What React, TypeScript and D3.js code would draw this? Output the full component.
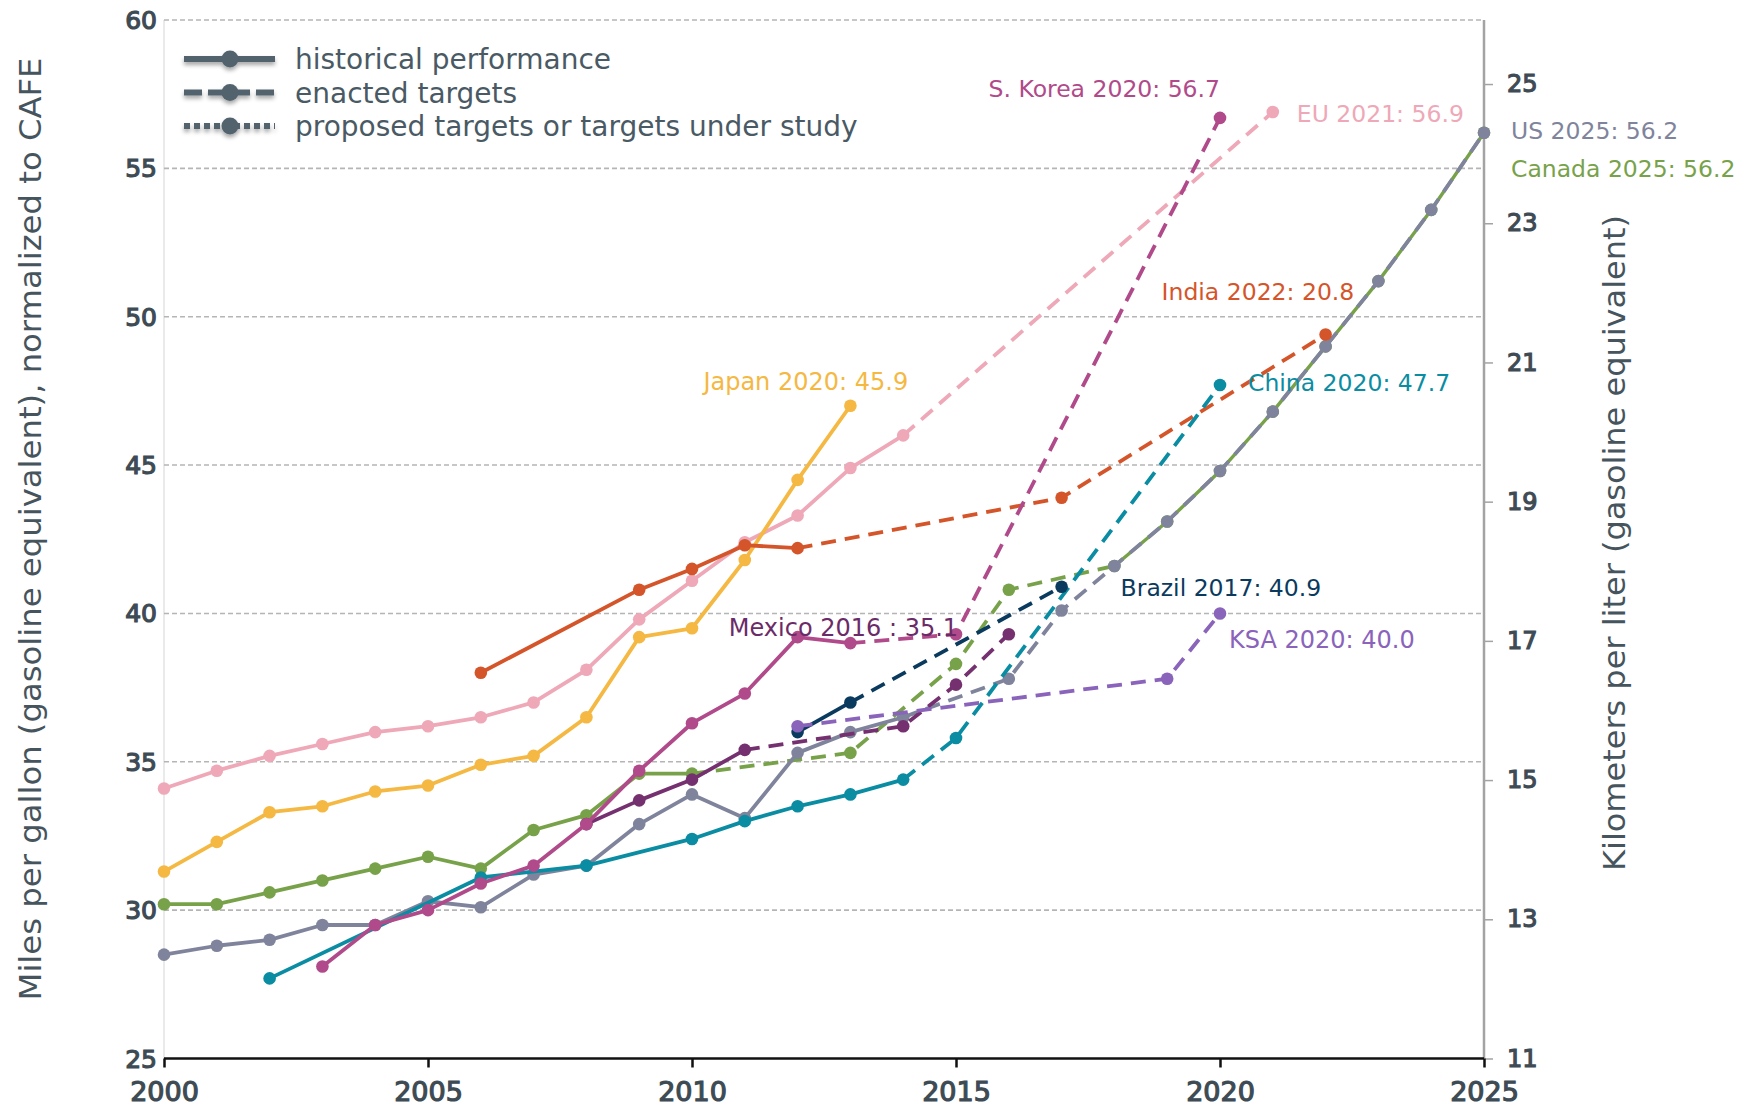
import * as d3 from "d3";
import React, { useEffect, useRef } from "react";

// ---- data (mpg, normalized to CAFE) ----
const usHistYears = [2000, 2001, 2002, 2003, 2004, 2005, 2006, 2007, 2008, 2009, 2010, 2011, 2012, 2013, 2014];
const usHist = [28.5, 28.8, 29.0, 29.5, 29.5, 30.3, 30.1, 31.2, 31.5, 32.9, 33.9, 33.1, 35.3, 36.0, 36.5];
const usTargetYears = [2014, 2016, 2017, 2018, 2019, 2020, 2021, 2022, 2023, 2024, 2025];
const usTarget = [36.5, 37.8, 40.1, 41.6, 43.1, 44.8, 46.8, 49.0, 51.2, 53.6, 56.2];

const canadaHistYears = [2000, 2001, 2002, 2003, 2004, 2005, 2006, 2007, 2008, 2009, 2010];
const canadaHist = [30.2, 30.2, 30.6, 31.0, 31.4, 31.8, 31.4, 32.7, 33.2, 34.6, 34.6];
const canadaTargetYears = [2010, 2013, 2015, 2016, 2018, 2019, 2020, 2021, 2022, 2023, 2024, 2025];
const canadaTarget = [34.6, 35.3, 38.3, 40.8, 41.6, 43.1, 44.8, 46.8, 49.0, 51.2, 53.6, 56.2];

const euHistYears = [2000, 2001, 2002, 2003, 2004, 2005, 2006, 2007, 2008, 2009, 2010, 2011, 2012, 2013, 2014];
const euHist = [34.1, 34.7, 35.2, 35.6, 36.0, 36.2, 36.5, 37.0, 38.1, 39.8, 41.1, 42.4, 43.3, 44.9, 46.0];
const euTargetYears = [2014, 2021];
const euTarget = [46.0, 56.9];

const japanHistYears = [2000, 2001, 2002, 2003, 2004, 2005, 2006, 2007, 2008, 2009, 2010, 2011, 2012, 2013];
const japanHist = [31.3, 32.3, 33.3, 33.5, 34.0, 34.2, 34.9, 35.2, 36.5, 39.2, 39.5, 41.8, 44.5, 47.0];

const indiaHistYears = [2006, 2009, 2010, 2011, 2012];
const indiaHist = [38.0, 40.8, 41.5, 42.3, 42.2];
const indiaTargetYears = [2012, 2017, 2022];
const indiaTarget = [42.2, 43.9, 49.4];

const chinaHistYears = [2002, 2006, 2008, 2010, 2011, 2012, 2013, 2014];
const chinaHist = [27.7, 31.1, 31.5, 32.4, 33.0, 33.5, 33.9, 34.4];
const chinaTargetYears = [2014, 2015, 2020];
const chinaTarget = [34.4, 35.8, 47.7];

const mexicoHistYears = [2008, 2009, 2010, 2011];
const mexicoHist = [32.9, 33.7, 34.4, 35.4];
const mexicoTargetYears = [2011, 2014, 2015, 2016];
const mexicoTarget = [35.4, 36.2, 37.6, 39.3];

const koreaHistYears = [2003, 2004, 2005, 2006, 2007, 2008, 2009, 2010, 2011, 2012, 2013];
const koreaHist = [28.1, 29.5, 30.0, 30.9, 31.5, 32.9, 34.7, 36.3, 37.3, 39.2, 39.0];
const koreaTargetYears = [2013, 2015, 2020];
const koreaTarget = [39.0, 39.3, 56.7];

const brazilHistYears = [2012, 2013];
const brazilHist = [36.0, 37.0];
const brazilTargetYears = [2013, 2017];
const brazilTarget = [37.0, 40.9];

const ksaTargetYears = [2012, 2019, 2020];
const ksaTarget = [36.2, 37.8, 40.0];

const mpgTicks = [25, 30, 35, 40, 45, 50, 55, 60];
const kmlTicks = [11, 13, 15, 17, 19, 21, 23, 25];
const yearTicks = [2000, 2005, 2010, 2015, 2020, 2025];
const legendLabels = ["historical performance", "enacted targets", "proposed targets or targets under study"];

const zip = (xs: number[], ys: number[]) => xs.map((x, i) => [x, ys[i]] as [number, number]);

// draw order: later on top. sharedFrom: year from which the target runs along the US line (drawn solid underneath)
const series = [
  { name: "Canada", color: "#78a24a", hist: zip(canadaHistYears, canadaHist), target: zip(canadaTargetYears, canadaTarget), sharedFrom: 2018,
    label: "Canada 2025: 56.2", lx: 27, ly: 36, anchor: "start", fs: 23.5 },
  { name: "US", color: "#7f849c", hist: zip(usHistYears, usHist), target: zip(usTargetYears, usTarget), sharedFrom: 0,
    label: "US 2025: 56.2", lx: 27, ly: -2, anchor: "start", fs: 23.5 },
  { name: "EU", color: "#eea8b7", hist: zip(euHistYears, euHist), target: zip(euTargetYears, euTarget), sharedFrom: 0,
    label: "EU 2021: 56.9", lx: 24, ly: 2, anchor: "start", fs: 23.5 },
  { name: "Japan", color: "#f4b843", hist: zip(japanHistYears, japanHist), target: [] as [number, number][], sharedFrom: 0,
    label: "Japan 2020: 45.9", lx: -147, ly: -24, anchor: "start", fs: 24 },
  { name: "India", color: "#d5552b", hist: zip(indiaHistYears, indiaHist), target: zip(indiaTargetYears, indiaTarget), sharedFrom: 0,
    label: "India 2022: 20.8", lx: -164, ly: -43, anchor: "start", fs: 23.5 },
  { name: "China", color: "#0a8ca2", hist: zip(chinaHistYears, chinaHist), target: zip(chinaTargetYears, chinaTarget), sharedFrom: 0,
    label: "China 2020: 47.7", lx: 28, ly: -2, anchor: "start", fs: 23.5 },
  { name: "Mexico", color: "#75306f", hist: zip(mexicoHistYears, mexicoHist), target: zip(mexicoTargetYears, mexicoTarget), sharedFrom: 0,
    label: "Mexico 2016 : 35.1", lx: -280, ly: -7, anchor: "start", fs: 24, textColor: "#6b2b68" },
  { name: "S. Korea", color: "#b04a8a", hist: zip(koreaHistYears, koreaHist), target: zip(koreaTargetYears, koreaTarget), sharedFrom: 0,
    label: "S. Korea 2020: 56.7", lx: 0, ly: -29, anchor: "end", fs: 23.5 },
  { name: "Brazil", color: "#0a3a5e", hist: zip(brazilHistYears, brazilHist), target: zip(brazilTargetYears, brazilTarget), sharedFrom: 0,
    label: "Brazil 2017: 40.9", lx: 59, ly: 1, anchor: "start", fs: 23.5 },
  { name: "KSA", color: "#8a63bb", hist: [] as [number, number][], target: zip(ksaTargetYears, ksaTarget), sharedFrom: 0,
    label: "KSA 2020: 40.0", lx: 9, ly: 26, anchor: "start", fs: 24 },
];

const W = 1747;
const H = 1109;
const X0 = 164, X1 = 1484, Y0 = 20, Y1 = 1058.5;
const tickFont = "'DejaVu Sans', sans-serif";
const titleFont = "'Liberation Sans Narrow', 'DejaVu Sans Condensed', 'Liberation Sans', Arial, sans-serif";

const App = () => {
  const ref = useRef<SVGSVGElement>(null);

  useEffect(() => {
    const svg = d3.select(ref.current);
    svg.selectAll("*").remove();

    const x = d3.scaleLinear().domain([2000, 2025]).range([X0, X1]);
    const y = d3.scaleLinear().domain([25, 60]).range([Y1, Y0]);
    const yKm = d3.scaleLinear().domain([11, 25.92]).range([Y1, Y0]);

    const defs = svg.append("defs");
    const f = defs.append("filter").attr("id", "shadow").attr("x", "-20%").attr("y", "-80%").attr("width", "140%").attr("height", "260%");
    f.append("feDropShadow").attr("dx", 0).attr("dy", 3).attr("stdDeviation", 2).attr("flood-color", "#000").attr("flood-opacity", 0.35);

    // left border
    svg.append("line").attr("x1", X0).attr("x2", X0).attr("y1", Y0).attr("y2", Y1)
      .attr("stroke", "#dcdcdc").attr("stroke-width", 1.2);

    // gridlines
    svg.append("g").selectAll("line").data(mpgTicks.filter((t) => t > 25)).enter().append("line")
      .attr("x1", X0).attr("x2", X1).attr("y1", (d) => y(d)).attr("y2", (d) => y(d))
      .attr("stroke", "#b5b5b5").attr("stroke-width", 1.6).attr("stroke-dasharray", "5,3");

    // left tick labels
    svg.append("g").selectAll("text").data(mpgTicks).enter().append("text")
      .attr("x", 157).attr("y", (d) => y(d)).attr("dy", "0.36em").attr("text-anchor", "end")
      .style("font-family", tickFont).style("font-size", "25px")
      .attr("fill", "#3e4b54").attr("stroke", "#3e4b54").attr("stroke-width", 1.2).text((d) => d);

    // right axis
    svg.append("line").attr("x1", X1).attr("x2", X1).attr("y1", Y0).attr("y2", Y1)
      .attr("stroke", "#a3a3a3").attr("stroke-width", 2.5);
    const rAxis = svg.append("g").attr("transform", `translate(${X1},0)`)
      .call(d3.axisRight(yKm).tickValues(kmlTicks).tickSize(9).tickFormat(d3.format("d")));
    rAxis.select(".domain").remove();
    rAxis.selectAll(".tick line").attr("stroke", "#a3a3a3").attr("stroke-width", 1.5);
    rAxis.selectAll(".tick text").attr("x", 23).attr("fill", "#3e4b54").attr("stroke", "#3e4b54").attr("stroke-width", 1.2)
      .style("font-family", tickFont).style("font-size", "24px");

    // bottom axis
    const bAxis = svg.append("g").attr("transform", `translate(0,${Y1})`)
      .call(d3.axisBottom(x).tickValues(yearTicks).tickSize(9).tickFormat(d3.format("d")));
    bAxis.select(".domain").attr("stroke", "#111").attr("stroke-width", 2.5).attr("d", `M${X0},0H${X1}`);
    bAxis.selectAll(".tick line").attr("stroke", "#111").attr("stroke-width", 2.5);
    bAxis.selectAll(".tick text").attr("y", 23).attr("fill", "#3e4b54").attr("stroke", "#3e4b54").attr("stroke-width", 1.2)
      .style("font-family", tickFont).style("font-size", "27px");

    // axis titles
    svg.append("text").attr("transform", `translate(30,${529}) rotate(-90)`)
      .attr("text-anchor", "middle").attr("dy", "0.35em")
      .attr("textLength", 943).attr("lengthAdjust", "spacingAndGlyphs")
      .style("font-family", titleFont).style("font-size", "31px").attr("fill", "#46545d")
      .text("Miles per gallon (gasoline equivalent), normalized to CAFE");
    svg.append("text").attr("transform", `translate(1614,${543}) rotate(-90)`)
      .attr("text-anchor", "middle").attr("dy", "0.35em")
      .attr("textLength", 656).attr("lengthAdjust", "spacingAndGlyphs")
      .style("font-family", titleFont).style("font-size", "31px").attr("fill", "#46545d")
      .text("Kilometers per liter (gasoline equivalent)");

    // series
    const line = d3.line<[number, number]>().x((d) => x(d[0])).y((d) => y(d[1]));
    series.forEach((s) => {
      const g = svg.append("g");
      if (s.hist.length) {
        g.append("path").attr("d", line(s.hist)).attr("fill", "none").attr("stroke", s.color)
          .attr("stroke-width", 3.8).attr("stroke-linejoin", "round");
      }
      if (s.target.length) {
        const own = s.sharedFrom ? s.target.filter((p) => p[0] <= s.sharedFrom) : s.target;
        g.append("path").attr("d", line(own)).attr("fill", "none").attr("stroke", s.color)
          .attr("stroke-width", 3.8).attr("stroke-dasharray", "15,9");
        if (s.sharedFrom) {
          // runs under another series' dashed line: shows through its gaps
          g.append("path").attr("d", line(s.target.filter((p) => p[0] >= s.sharedFrom)))
            .attr("fill", "none").attr("stroke", s.color).attr("stroke-width", 3.4);
        }
      }
      const pts = [...s.hist, ...s.target.filter((p) => !s.hist.some((h) => h[0] === p[0]))];
      g.selectAll("circle").data(pts).enter().append("circle")
        .attr("cx", (d) => x(d[0])).attr("cy", (d) => y(d[1])).attr("r", 6.3).attr("fill", s.color);
    });

    // end labels
    series.forEach((s) => {
      const all = [...s.hist, ...s.target];
      const last = all[all.length - 1];
      svg.append("text").attr("x", x(last[0]) + s.lx).attr("y", y(last[1]) + s.ly).attr("dy", "0.36em")
        .attr("text-anchor", s.anchor).attr("fill", (s as any).textColor || s.color)
        .style("font-family", tickFont).style("font-size", `${s.fs}px`).text(s.label);
    });

    // legend
    const lg = svg.append("g").attr("transform", "translate(184,59)");
    const styles = ["none", "18,6", "6,4"];
    legendLabels.forEach((t, i) => {
      const row = lg.append("g").attr("transform", `translate(0,${i * 33.5})`);
      const sym = row.append("g").attr("filter", "url(#shadow)");
      sym.append("line").attr("x1", 0).attr("x2", 91).attr("y1", 0).attr("y2", 0)
        .attr("stroke", "#52636e").attr("stroke-width", 6).attr("stroke-dasharray", styles[i]);
      sym.append("circle").attr("cx", 46).attr("cy", 0).attr("r", 8.5).attr("fill", "#52636e");
      row.append("text").attr("x", 111).attr("y", 0).attr("dy", "0.36em").attr("fill", "#4a5a64")
        .style("font-family", tickFont).style("font-size", "28px").text(t);
    });
  }, []);

  return (
    <svg ref={ref} width={W} height={H}
      style={{ position: "absolute", left: 0, top: 0, background: "#fff", display: "block" }} />
  );
};

export default App;
